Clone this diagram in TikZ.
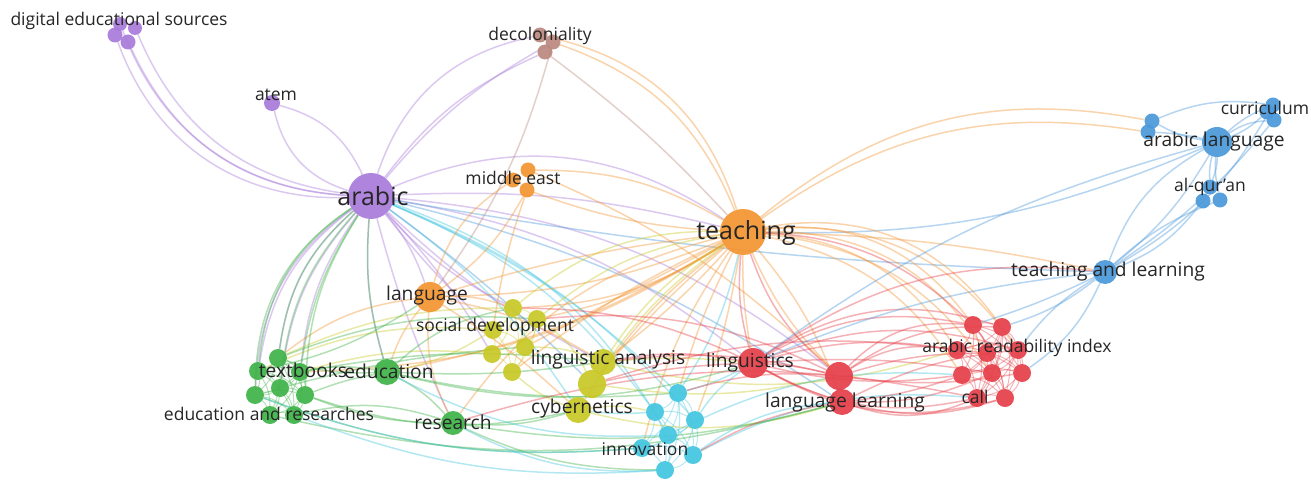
\documentclass[tikz,border=0pt]{standalone}
\usepackage{fontspec}
\setmainfont{Open Sans}
\usetikzlibrary{positioning}
\definecolor{vpurple}{RGB}{168,122,218}
\definecolor{vbrown}{RGB}{186,136,126}
\definecolor{vorange}{RGB}{244,148,48}
\definecolor{vyellow}{RGB}{200,200,38}
\definecolor{vgreen}{RGB}{62,178,72}
\definecolor{vcyan}{RGB}{66,198,224}
\definecolor{vred}{RGB}{230,62,72}
\definecolor{vblue}{RGB}{74,152,218}
\definecolor{vtext}{RGB}{38,38,38}
\pgfdeclarelayer{back}
\pgfdeclarelayer{links}
\pgfsetlayers{back,links,main}

\begin{document}
\begin{tikzpicture}[x=1pt, y=-1pt,
    kw/.style={shape=circle, inner sep=0pt, minimum size=#1, fill opacity=0.92},
    link/.style={line width=1.5pt, draw opacity=0.4},
    inlink/.style={line width=1pt, draw opacity=0.38},
    lbl/.style={text=vtext, inner sep=0pt},
    lbls/.style={lbl, font=\fontsize{17.5}{18}\selectfont},
    lblm/.style={lbl, font=\fontsize{19.2}{20}\selectfont},
    lblb/.style={lbl, font=\fontsize{25}{26}\selectfont}]
\begin{pgfonlayer}{back}
\useasboundingbox[fill=white] (0,0) rectangle (1311,481);
\end{pgfonlayer}

% purple
\node (arabic)[kw=46, fill=vpurple] at (371,196) {};
\node (atem)[kw=16, fill=vpurple] at (272,103) {};
\node (des1)[kw=14, fill=vpurple] at (120,24) {};
\node (des2)[kw=14, fill=vpurple] at (135,28) {};
\node (des3)[kw=15, fill=vpurple] at (115,35) {};
\node (des4)[kw=15, fill=vpurple] at (128,42) {};
% brown
\node (dec1)[kw=15, fill=vbrown] at (540,35) {};
\node (dec2)[kw=15, fill=vbrown] at (553,42) {};
\node (dec3)[kw=15, fill=vbrown] at (545,52) {};
% orange
\node (teaching)[kw=46, fill=vorange] at (743,232) {};
\node (mde1)[kw=15, fill=vorange] at (528,170) {};
\node (mde2)[kw=15, fill=vorange] at (513,180) {};
\node (mde3)[kw=15, fill=vorange] at (527,190) {};
\node (language)[kw=30, fill=vorange] at (430,297) {};
% yellow
\node (soc1)[kw=18, fill=vyellow] at (513,308) {};
\node (soc2)[kw=18, fill=vyellow] at (537,319) {};
\node (soc3)[kw=18, fill=vyellow] at (493,330) {};
\node (soc4)[kw=18, fill=vyellow] at (525,347) {};
\node (soc5)[kw=18, fill=vyellow] at (492,354) {};
\node (soc6)[kw=18, fill=vyellow] at (512,372) {};
\node (lina)[kw=26, fill=vyellow] at (603,362) {};
\node (ylw)[kw=28, fill=vyellow] at (592,384) {};
\node (cyb)[kw=26, fill=vyellow] at (578,410) {};
% green
\node (tb1)[kw=18, fill=vgreen] at (278,358) {};
\node (tb2)[kw=18, fill=vgreen] at (258,371) {};
\node (tb3)[kw=18, fill=vgreen] at (300,372) {};
\node (tb4)[kw=18, fill=vgreen] at (280,388) {};
\node (tb5)[kw=18, fill=vgreen] at (255,395) {};
\node (tb6)[kw=18, fill=vgreen] at (305,395) {};
\node (tb7)[kw=18, fill=vgreen] at (270,415) {};
\node (tb8)[kw=18, fill=vgreen] at (294,415) {};
\node (education)[kw=26, fill=vgreen] at (387,372) {};
\node (research)[kw=24, fill=vgreen] at (453,423) {};
% cyan
\node (inn1)[kw=18, fill=vcyan] at (678,393) {};
\node (inn2)[kw=18, fill=vcyan] at (655,412) {};
\node (inn3)[kw=18, fill=vcyan] at (695,420) {};
\node (inn4)[kw=18, fill=vcyan] at (668,435) {};
\node (inn5)[kw=18, fill=vcyan] at (642,448) {};
\node (inn6)[kw=18, fill=vcyan] at (693,455) {};
\node (inn7)[kw=18, fill=vcyan] at (665,470) {};
% red
\node (linguistics)[kw=30, fill=vred] at (753,363) {};
\node (ll1)[kw=28, fill=vred] at (839,376) {};
\node (ll2)[kw=26, fill=vred] at (842,402) {};
\node (ari1)[kw=18, fill=vred] at (973,325) {};
\node (ari2)[kw=18, fill=vred] at (1002,327) {};
\node (ari3)[kw=18, fill=vred] at (957,350) {};
\node (ari4)[kw=18, fill=vred] at (987,353) {};
\node (ari5)[kw=18, fill=vred] at (1018,350) {};
\node (ari6)[kw=18, fill=vred] at (962,375) {};
\node (ari7)[kw=18, fill=vred] at (992,373) {};
\node (ari8)[kw=18, fill=vred] at (1022,373) {};
\node (ari9)[kw=18, fill=vred] at (977,398) {};
\node (ari10)[kw=18, fill=vred] at (1005,398) {};
% blue
\node (arlang)[kw=30, fill=vblue] at (1217,142) {};
\node (cur1)[kw=15, fill=vblue] at (1273,105) {};
\node (cur2)[kw=15, fill=vblue] at (1267,112) {};
\node (cur3)[kw=15, fill=vblue] at (1274,120) {};
\node (bl1)[kw=15, fill=vblue] at (1152,121) {};
\node (bl2)[kw=15, fill=vblue] at (1148,132) {};
\node (qur1)[kw=15, fill=vblue] at (1210,187) {};
\node (qur2)[kw=15, fill=vblue] at (1203,201) {};
\node (qur3)[kw=15, fill=vblue] at (1220,200) {};
\node (tal)[kw=24, fill=vblue] at (1105,272) {};

% labels
\node (arabic-t)[lblb] at (373,196) {arabic};
\node (teaching-t)[lblb] at (746,233) {teaching};
\node (des-t)[lbls] at (119,21) {digital educational sources};
\node (atem-t)[lbls] at (276,95) {atem};
\node (dec-t)[lbls] at (540,36) {decoloniality};
\node (mde-t)[lbls] at (513,178) {middle east};
\node (language-t)[lblm] at (427,296) {language};
\node (soc-t)[lbls] at (495,327) {social development};
\node (lina-t)[lblm] at (608,360) {linguistic analysis};
\node (cyb-t)[lblm] at (582,409) {cybernetics};
\node (tb-t)[lblm] at (303,370) {textbooks};
\node (education-t)[lblm] at (389,371) {education};
\node (ear-t)[lbls] at (269,414) {education and researches};
\node (research-t)[lblm] at (453,422) {research};
\node (inn-t)[lbls] at (645,449) {innovation};
\node (linguistics-t)[lblm] at (750,363) {linguistics};
\node (ll-t)[lblm] at (845,403) {language learning};
\node (ari-t)[lbls] at (1017,348) {arabic readability index};
\node (call-t)[lbls] at (975,397) {call};
\node (arlang-t)[lblm] at (1214,142) {arabic language};
\node (cur-t)[lbls] at (1265,108) {curriculum};
\node (qur-t)[lbls] at (1210,187) {al-qur'an};
\node (tal-t)[lblm] at (1108,272) {teaching and learning};

\begin{pgfonlayer}{links}
% inside the clusters
\foreach \i [evaluate=\i as \n using int(\i+1)] in {1,...,7}
    \foreach \j in {\n,...,8}
        \path (tb\i) edge[inlink, draw=vgreen, bend left=15] (tb\j);
\foreach \i [evaluate=\i as \n using int(\i+1)] in {1,...,6}
    \foreach \j in {\n,...,7}
        \path (inn\i) edge[inlink, draw=vcyan, bend left=15] (inn\j);
\foreach \i [evaluate=\i as \n using int(\i+1)] in {1,...,9}
    \foreach \j in {\n,...,10}
        \path (ari\i) edge[inlink, draw=vred, bend left=15] (ari\j);
\foreach \i [evaluate=\i as \n using int(\i+1)] in {1,...,5}
    \foreach \j in {\n,...,6}
        \path (soc\i) edge[inlink, draw=vyellow, bend left=15] (soc\j);

% between the clusters
\foreach \a/\b/\c/\k in {
    arabic/des1/vpurple/33, arabic/des2/vpurple/30, arabic/des3/vpurple/36,
    arabic/des4/vpurple/31, arabic/atem/vpurple/30, atem/arabic/vpurple/25,
    arabic/dec1/vpurple/30, arabic/dec2/vpurple/10, arabic/dec3/vpurple/14,
    arabic/teaching/vpurple/28, arabic/teaching/vpurple/8,
    arabic/linguistics/vpurple/14, arabic/ll1/vpurple/16,
    arabic/language/vpurple/10, arabic/soc1/vpurple/-10,
    arabic/soc3/vpurple/-4, arabic/soc5/vpurple/6,
    arabic/lina/vpurple/-8, arabic/tb1/vpurple/-20, arabic/tb3/vpurple/-14,
    arabic/tb2/vpurple/-22, arabic/tb5/vpurple/-26, arabic/tb4/vpurple/-17,
    arabic/education/vpurple/-10, arabic/research/vpurple/-5,
    arabic/inn2/vcyan/15, arabic/inn4/vcyan/20, arabic/cyb/vcyan/10,
    arabic/inn1/vcyan/10, arabic/inn3/vcyan/13, arabic/ll2/vblue/10,
    arabic/ylw/vblue/4, arabic/tal/vblue/-4, teaching/arlang/vblue/-12,
    dec1/teaching/vorange/30, dec2/teaching/vorange/24,
    dec3/teaching/vbrown/5, dec2/language/vbrown/10,
    mde1/teaching/vorange/15, mde3/teaching/vorange/-8,
    mde2/language/vorange/-20, mde3/soc3/vorange/-5,
    mde3/language/vorange/12, mde1/ll1/vorange/10,
    teaching/language/vorange/10, teaching/language/vorange/-5,
    teaching/linguistics/vorange/-5, teaching/ll1/vorange/-10,
    teaching/ll2/vorange/10, teaching/ari1/vorange/30,
    teaching/ari2/vorange/32, teaching/ari3/vorange/26,
    teaching/ari4/vorange/28, teaching/ari5/vorange/30,
    teaching/ari6/vorange/22, teaching/ari7/vorange/24,
    teaching/bl1/vorange/25, teaching/bl2/vorange/22,
    teaching/tal/vorange/5, teaching/cyb/vorange/-10,
    teaching/lina/vorange/5, teaching/soc2/vorange/10,
    teaching/soc1/vorange/15, teaching/ylw/vorange/-5,
    teaching/research/vorange/-20, teaching/education/vorange/10,
    teaching/tb3/vorange/15, teaching/inn1/vorange/-5,
    teaching/inn3/vorange/5, teaching/inn5/vorange/-10,
    teaching/soc4/vorange/0, teaching/soc6/vorange/-6,
    language/education/vorange/-10, language/tb1/vorange/-15,
    language/research/vorange/-15, language/soc1/vorange/10,
    language/lina/vorange/10, language/cyb/vorange/5,
    soc1/teaching/vyellow/20, soc2/teaching/vyellow/15,
    lina/teaching/vyellow/12, ylw/teaching/vyellow/10,
    soc3/education/vyellow/10, soc5/tb3/vyellow/-10,
    lina/linguistics/vyellow/5, ylw/ll1/vyellow/-10,
    cyb/ll2/vyellow/-15, cyb/inn2/vyellow/10, soc4/lina/vyellow/10,
    soc6/cyb/vyellow/-10, soc2/ylw/vyellow/15, soc1/tb1/vyellow/-12,
    soc3/tb2/vyellow/-14, lina/ari3/vyellow/-15,
    tb1/arabic/vgreen/20, tb2/arabic/vgreen/25, tb4/arabic/vgreen/18,
    tb5/arabic/vgreen/28, education/arabic/vgreen/10,
    tb3/arabic/vgreen/12, tb6/arabic/vgreen/15,
    tb3/education/vgreen/10, tb1/education/vgreen/-10,
    tb6/education/vgreen/5, education/research/vgreen/10,
    tb8/research/vgreen/15, tb6/research/vgreen/-10,
    research/inn7/vgreen/-12, research/ll2/vgreen/-12,
    tb5/inn5/vgreen/-12, tb7/ll2/vgreen/-14,
    education/linguistics/vgreen/-15, tb6/cyb/vgreen/-15,
    education/lina/vgreen/-5, research/cyb/vgreen/-10,
    tb4/soc4/vgreen/5, tb2/language/vgreen/-10, education/soc1/vgreen/15,
    tb3/lina/vgreen/8, tb1/soc2/vgreen/12, education/inn1/vgreen/-8,
    inn5/tb5/vcyan/12, inn7/research/vcyan/15, inn4/education/vcyan/15,
    inn1/teaching/vcyan/-10, inn3/linguistics/vcyan/10,
    inn6/ll2/vcyan/15, inn4/ari6/vcyan/15, inn2/cyb/vcyan/5,
    inn7/tb8/vcyan/12, inn6/ari9/vcyan/16, inn1/linguistics/vcyan/-6,
    linguistics/ll1/vred/5, linguistics/ll2/vred/-5,
    linguistics/ari1/vred/20, linguistics/ari3/vred/12,
    linguistics/ari6/vred/-10, linguistics/ari9/vred/-20,
    linguistics/ari7/vred/6, linguistics/ari2/vred/25,
    linguistics/ari5/vred/18, linguistics/ari10/vred/-22,
    ll1/ari2/vred/18, ll1/ari4/vred/8, ll1/ari1/vred/25, ll1/ari3/vred/20,
    ll1/ari8/vred/-8, ll2/ari10/vred/-15, ll2/ari6/vred/-6,
    ll2/ari5/vred/10, ll2/ari9/vred/-20, ll2/ari7/vred/-12,
    linguistics/lina/vred/-10, linguistics/ylw/vred/-5,
    linguistics/teaching/vred/10, ll1/teaching/vred/15,
    linguistics/tal/vred/20, ll1/soc2/vred/-15, ll2/inn6/vred/-10,
    ll1/lina/vred/-10, ll1/inn1/vred/-10, linguistics/soc1/vred/-12,
    ari1/teaching/vred/-20, ari3/ylw/vred/-12, ari9/research/vred/-14,
    tal/ari2/vblue/10, tal/ari5/vblue/-10, tal/ari8/vblue/15,
    tal/ari1/vblue/4, tal/linguistics/vblue/-8, arlang/linguistics/vblue/-10,
    arlang/cur1/vblue/10, arlang/cur2/vblue/-10, arlang/cur3/vblue/15,
    arlang/bl1/vblue/10, arlang/bl2/vblue/-5, bl1/cur1/vblue/15,
    arlang/qur1/vblue/10, arlang/qur1/vblue/-10, arlang/qur3/vblue/-8,
    tal/qur2/vblue/-15, tal/qur3/vblue/10, tal/arlang/vblue/20,
    tal/arlang/vblue/-10, tal/cur1/vblue/-15, tal/cur3/vblue/-8}
    \path (\a) edge[link, draw=\c, bend left=\k] (\b);
\end{pgfonlayer}
\end{tikzpicture}
\end{document}
